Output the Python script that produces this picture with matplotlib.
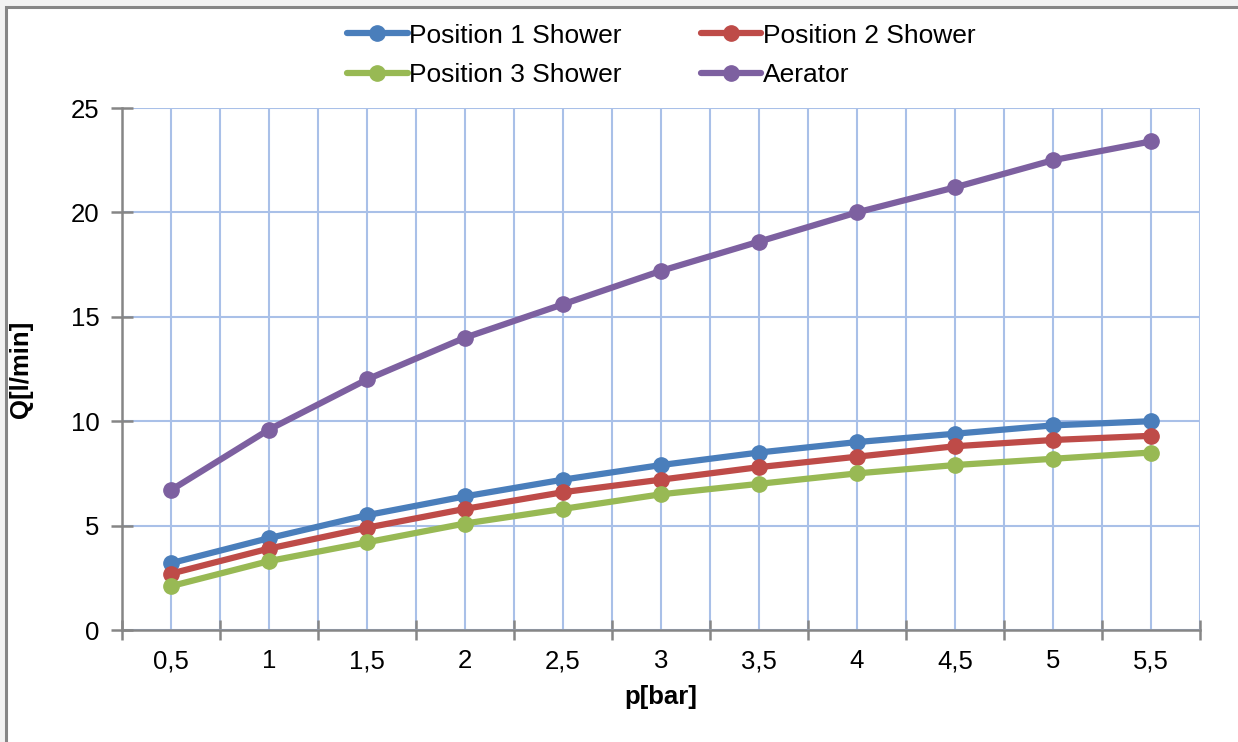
import numpy as np
import matplotlib.pyplot as plt
from matplotlib.patches import Rectangle

plt.rcParams['font.family'] = ['Liberation Sans', 'DejaVu Sans']

# data
pressure = ['0,5', '1', '1,5', '2', '2,5', '3', '3,5', '4', '4,5', '5', '5,5']
pos1 = [3.2, 4.4, 5.5, 6.4, 7.2, 7.9, 8.5, 9.0, 9.4, 9.8, 10.0]
pos2 = [2.7, 3.9, 4.9, 5.8, 6.6, 7.2, 7.8, 8.3, 8.8, 9.1, 9.3]
pos3 = [2.1, 3.3, 4.2, 5.1, 5.8, 6.5, 7.0, 7.5, 7.9, 8.2, 8.5]
aerator = [6.7, 9.6, 12.0, 14.0, 15.6, 17.2, 18.6, 20.0, 21.2, 22.5, 23.4]

series = [('Position 1 Shower', pos1, '#4a7ebb'),
          ('Position 2 Shower', pos2, '#be4b48'),
          ('Position 3 Shower', pos3, '#98b954'),
          ('Aerator', aerator, '#7d60a0')]

fig = plt.figure(figsize=(12.38, 7.42), dpi=100)
fig.patch.set_facecolor('#f2f2f2')
# white chart area with gray frame
fig.patches.append(Rectangle((6 / 1238, -0.01), 1.02, (742 - 7) / 742 + 0.01,
                             transform=fig.transFigure, facecolor='white',
                             edgecolor='#868686', linewidth=2.2, zorder=-5))

ax = fig.add_axes([122 / 1238, 112 / 742, (1200 - 122) / 1238, (630 - 108) / 742])
ax.set_facecolor('none')

x = np.arange(len(pressure))
lines = []
for name, vals, col in series:
    ln, = ax.plot(x, vals, '-o', color=col, lw=4.5, ms=11, label=name,
                  solid_capstyle='round', zorder=3)
    lines.append(ln)

ax.set_xlim(-0.5, len(pressure) - 0.5)
ax.set_ylim(0, 25)
ax.set_yticks(np.arange(0, 26, 5))
ax.set_xticks(x)
ax.set_xticklabels(pressure)
ax.set_xticks(np.arange(-0.5, len(pressure)), minor=True)

grid_col = '#a9c0e8'
ax.grid(True, which='major', axis='both', color=grid_col, lw=1.5, zorder=1)
ax.grid(True, which='minor', axis='x', color=grid_col, lw=1.5, zorder=1)

for s in ['top', 'right']:
    ax.spines[s].set_visible(False)
for s in ['left', 'bottom']:
    ax.spines[s].set_color('#868686')
    ax.spines[s].set_linewidth(1.8)
    ax.spines[s].set_zorder(2)

ax.tick_params(axis='x', which='major', length=0, pad=14, labelsize=18.5)
ax.tick_params(axis='x', which='minor', direction='inout', length=14,
               width=1.8, color='#868686')
ax.tick_params(axis='y', direction='inout', length=16, width=1.8,
               color='#868686', labelsize=18.5, pad=8)

ax.set_xlabel('p[bar]', fontsize=18.5, fontweight='bold', labelpad=8)
ax.set_ylabel('Q[l/min]', fontsize=18.5, fontweight='bold', labelpad=10)
ax.yaxis.set_label_coords(-0.083, 0.5)

# legend filled row by row like the original
order = [0, 2, 1, 3]
ax.legend([lines[i] for i in order], [series[i][0] for i in order],
          loc='upper center', bbox_to_anchor=(0.5, 1.182), ncol=2, frameon=False,
          fontsize=19, handlelength=2.3, handletextpad=0.05, columnspacing=3.0,
          labelspacing=0.6, borderaxespad=0)

fig.savefig('out.png', dpi=100, facecolor=fig.get_facecolor())
